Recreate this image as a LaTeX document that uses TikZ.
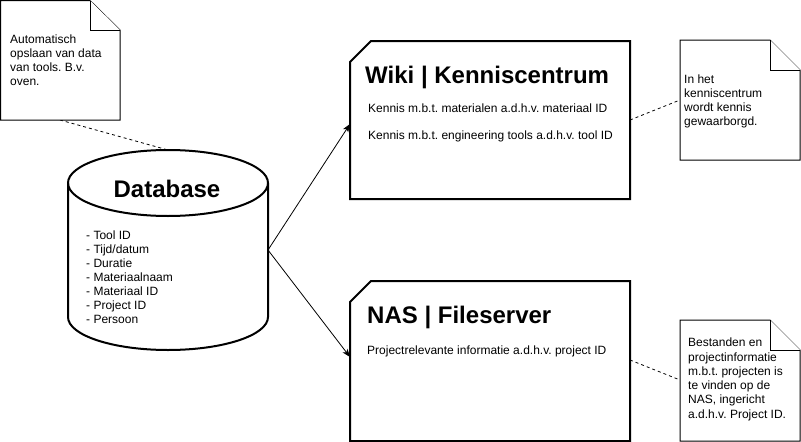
\documentclass[tikz,border=0pt]{standalone}
\usepackage{fontspec}
\setmainfont{Liberation Sans}
\usetikzlibrary{arrows.meta}
\frenchspacing
\begin{document}
\begin{tikzpicture}[x=1pt,y=-1pt,
  note/.style={draw=black, line width=1pt, fill=white, line join=miter},
  boxstyle/.style={draw=black, line width=2pt, fill=white, line join=miter},
  small/.style={font=\fontsize{12}{14}\selectfont\frenchspacing, anchor=base west, inner sep=0pt},
  big/.style={font=\fontsize{24}{28}\selectfont\bfseries, anchor=base west, inner sep=0pt},
  link/.style={line width=0.8pt, dash pattern=on 3pt off 3pt},
  arr/.style={-{Stealth[length=8pt,width=6pt,inset=2pt]}, line width=0.8pt}]
\useasboundingbox (0,0) rectangle (801,442);
% connector end points
\coordinate (n1bot) at (60,120);
\coordinate (dbtop) at (168,150);
\coordinate (dbright) at (268,250);
\coordinate (wikiin) at (350,124);
\coordinate (wikiright) at (630,120);
\coordinate (n2left) at (680,100);
\coordinate (nasin) at (350,357);
\coordinate (nasright) at (630,360);
\coordinate (n3left) at (680,380);
% dashed links
\draw[link] (n1bot) -- (dbtop);
\draw[link] (wikiright) -- (n2left);
\draw[link] (nasright) -- (n3left);
% note 1
\draw[note] (0.5,0.5) -- (90,0.5) -- (120,30) -- (120,120) -- (0.5,120) -- cycle;
\draw[note] (90,0.5) -- (90,30) -- (120,30);
\node[small] (n1a) at (10,43.5) {Automatisch};
\node[small] (n1b) at (10,57.5) {opslaan van data};
\node[small] (n1c) at (10,71.5) {van tools. B.v.};
\node[small] (n1d) at (10,85.5) {oven.};
% database cylinder
\draw[boxstyle] (68,183) -- (68,317) arc[start angle=180,end angle=360,x radius=100pt,y radius=33pt]
  -- (268,183) arc[start angle=0,end angle=180,x radius=100pt,y radius=33pt] -- cycle;
\draw[line width=2pt] (68,183) arc[start angle=180,end angle=360,x radius=100pt,y radius=33pt];
\node[big, anchor=base] (dbtitle) at (167,197) {Database};
\node[small] (db1) at (86,239.5) {- Tool ID};
\node[small] (db2) at (86,253.5) {- Tijd/datum};
\node[small] (db3) at (86,267.5) {- Duratie};
\node[small] (db4) at (86,281.5) {- Materiaalnaam};
\node[small] (db5) at (86,295.5) {- Materiaal ID};
\node[small] (db6) at (86,309.5) {- Project ID};
\node[small] (db7) at (86,323.5) {- Persoon};
% wiki box
\draw[boxstyle] (371,41) -- (630,41) -- (630,199) -- (350,199) -- (350,62) -- cycle;
\node[big] (wikititle) at (365,83.3) {Wiki | Kenniscentrum};
\node[small] (wiki1) at (368,112.7) {Kennis m.b.t. materialen a.d.h.v. materiaal ID};
\node[small] (wiki2) at (368,139.3) {Kennis m.b.t. engineering tools a.d.h.v. tool ID};
% wiki note
\draw[note] (680,40) -- (770,40) -- (800,70) -- (800,160) -- (680,160) -- cycle;
\draw[note] (770,40) -- (770,70) -- (800,70);
\node[small] (n2a) at (684,83.3) {In het};
\node[small] (n2b) at (684,97.3) {kenniscentrum};
\node[small] (n2c) at (684,111.3) {wordt kennis};
\node[small] (n2d) at (684,125.3) {gewaarborgd.};
% NAS box
\draw[boxstyle] (371,281) -- (630,281) -- (630,441) -- (350,441) -- (350,302) -- cycle;
\node[big] (nastitle) at (367,323.3) {NAS | Fileserver};
\node[small] (nas1) at (367,354) {Projectrelevante informatie a.d.h.v. project ID};
% NAS note
\draw[note] (680,320) -- (770,320) -- (800,350) -- (800,441) -- (680,441) -- cycle;
\draw[note] (770,320) -- (770,350) -- (800,350);
\node[small] (n3a) at (688,346.7) {Bestanden en};
\node[small] (n3b) at (688,361.0) {projectinformatie};
\node[small] (n3c) at (688,375.3) {m.b.t. projecten is};
\node[small] (n3d) at (688,389.6) {te vinden op de};
\node[small] (n3e) at (688,403.9) {NAS, ingericht};
\node[small] (n3f) at (688,418.2) {a.d.h.v. Project ID.};
% arrows
\draw[arr] (dbright) -- (wikiin);
\draw[arr] (dbright) -- (nasin);
\end{tikzpicture}
\end{document}
